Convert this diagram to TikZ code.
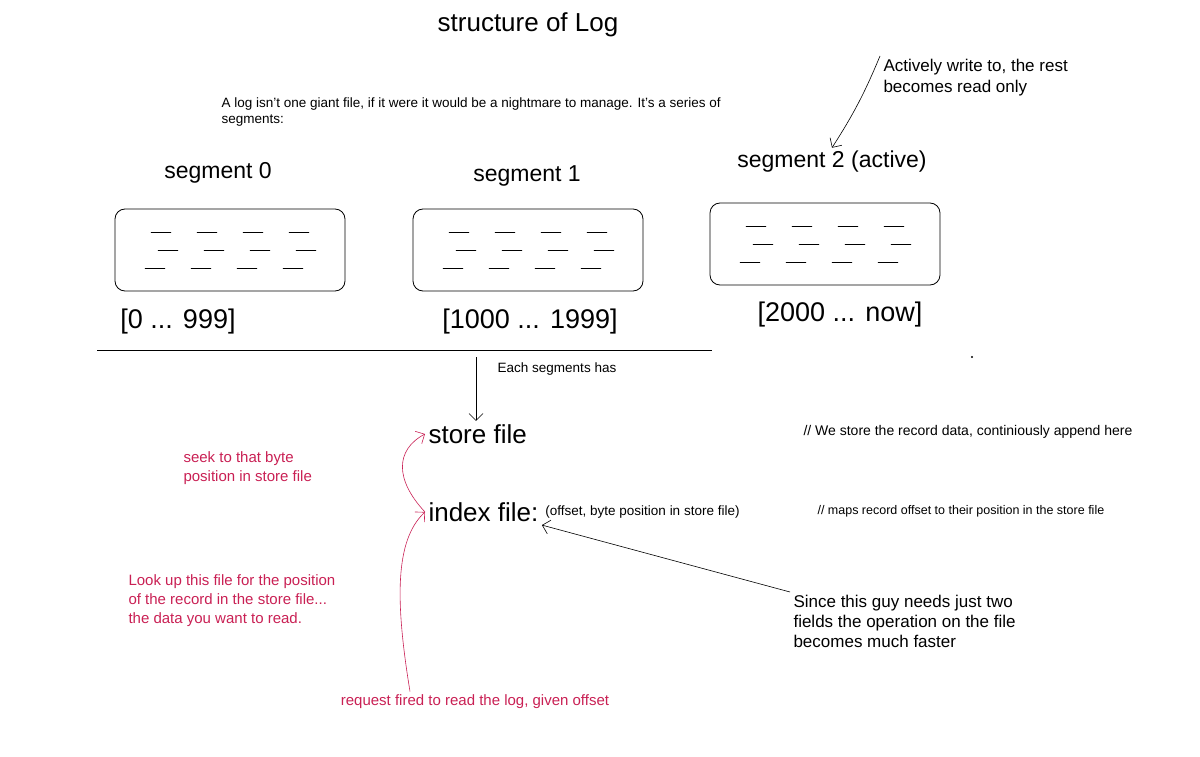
\documentclass[tikz,border=0pt]{standalone}
\usepackage{fontspec}
\setmainfont{Liberation Sans}
\usetikzlibrary{arrows.meta,positioning}
\definecolor{annot}{RGB}{201,32,84}
\tikzset{
  seg box/.style={draw,thick,rounded corners=10pt,minimum width=230pt,minimum height=82pt},
  seg name/.style={font=\fontsize{23}{26}\selectfont},
  seg range/.style={font=\fontsize{27}{30}\selectfont},
  file name/.style={font=\fontsize{26}{28}\selectfont,anchor=west},
  small note/.style={font=\fontsize{13.5}{16}\selectfont,align=left},
  red note/.style={small note,text=annot,font=\fontsize{15}{19}\selectfont},
  ar/.style={-{Straight Barb[length=7pt]},semithick},
  red ar/.style={ar,draw=annot},
  rec/.style={thin,line cap=round}
}
\begin{document}
\begin{tikzpicture}[x=1pt,y=-1pt]
   \useasboundingbox (0,0) rectangle (1200,757);
   \node[font=\fontsize{26}{30}\selectfont] (title) at (528,25) {structure of Log};
   \node[small note,anchor=north west] (intro) at (218,94)
      {A log isn't one giant file, if it were it would be a nightmare to manage. It's a series of\\segments:};
   \node[small note,font=\fontsize{17}{21}\selectfont,anchor=north west] (active) at (880,56)
      {Actively write to, the rest\\becomes read only};
   % segments
   \node[seg name] (n0) at (218,173) {segment 0};
   \node[seg name] (n1) at (527,176) {segment 1};
   \node[seg name] (n2) at (832,162) {segment 2 (active)};
   \node[seg box] (s0) at (230,250) {};
   \node[seg box] (s1) at (528,250) {};
   \node[seg box] (s2) at (825,244) {};
   \foreach \s in {s0,s1,s2}
      \foreach \r/\dy in {0/-18,1/0,2/18}
         \foreach \k in {0,1,2,3}
            \draw[rec] ([xshift={-85+\k*46+mod(\r*13,20)},yshift=\dy]\s.center) -- ++(20,0);
   \node[seg range] (r0) at (178,322) {[0 ... 999]};
   \node[seg range] (r1) at (530,322) {[1000 ... 1999]};
   \node[seg range] (r2) at (840,315) {[2000 ... now]};
   \coordinate (lineL) at (97,350);
   \coordinate (lineR) at (712,350);
   \draw[semithick] (lineL) -- (lineR);
   \fill (972,357) circle (1.2pt);
   \draw[ar] (active.north west) to[bend left=5] (n2.north);
   % files
   \coordinate (down) at (476,357);
   \node[small note] (has) at (557,369) {Each segments has};
   \node[file name] (store) at (425,434) {store file};
   \node[file name] (index) at (425,512) {index file:};
   \node[small note,anchor=west] (fields) at (index.east) {(offset, byte position in store file)};
   \draw[ar] (down) -- (store.north west -| down);
   \node[small note,font=\fontsize{14}{15}\selectfont,anchor=west] (storec) at (800,432)
      {// We store the record data, continiously append here};
   \node[small note,font=\fontsize{12.5}{15}\selectfont,anchor=west] (indexc) at (814,511)
      {// maps record offset to their position in the store file};
   \node[small note,font=\fontsize{17}{20}\selectfont,anchor=north west] (fast) at (790,592)
      {Since this guy needs just two\\fields the operation on the file\\becomes much faster};
   \draw[ar] (fast.north west) -- (index.south east);
   % lookup path
   \node[red note,anchor=north west] (seek) at (180,448) {seek to that byte\\position in store file};
   \node[red note,anchor=north west] (look) at (125,571)
      {Look up this file for the position\\of the record in the store file...\\the data you want to read.};
   \node[red note] (req) at (475,702) {request fired to read the log, given offset};
   \draw[red ar] (req.north -| 410,0) .. controls (395,600) and (395,540) .. (index.west);
   \draw[red ar] (index.west) .. controls (395,480) and (395,450) .. (store.west);
\end{tikzpicture}
\end{document}
